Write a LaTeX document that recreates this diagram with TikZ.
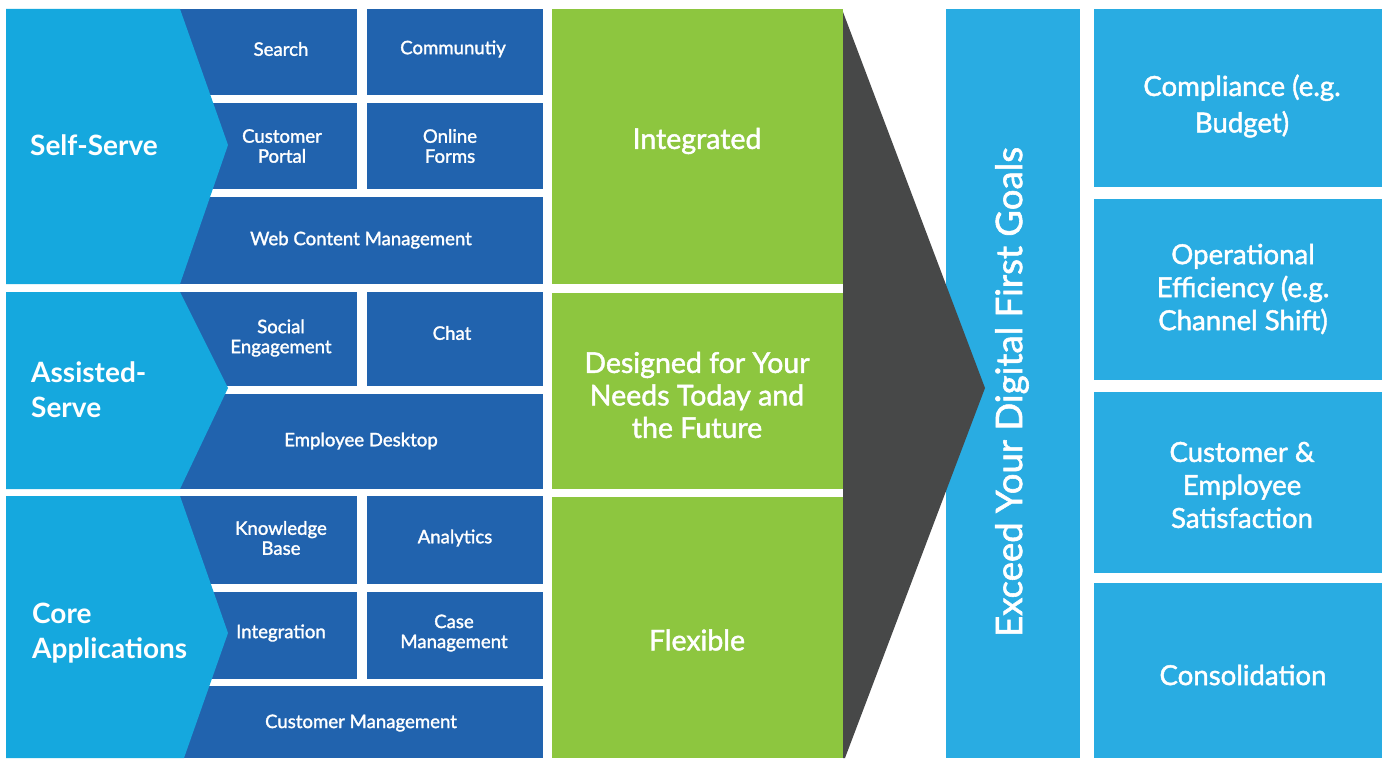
\documentclass[tikz,border=0pt]{standalone}
\usepackage{fontspec}
\setmainfont{Lato}
\newfontfamily\medfont{Lato}[FakeBold=1.6]
\definecolor{chev}{HTML}{15A8DE}
\definecolor{dblue}{HTML}{2163AE}
\definecolor{lgreen}{HTML}{8DC63F}
\definecolor{arrowgray}{HTML}{474848}
\definecolor{rblue}{HTML}{29ACE2}
\begin{document}
\begin{tikzpicture}[x=1pt,y=-1pt,
  small/.style={text=white,font=\medfont\fontsize{18.6}{20}\selectfont,align=center},
  bigl/.style={text=white,font=\bfseries\fontsize{28}{35}\selectfont,align=left,anchor=west,inner sep=0pt},
  greent/.style={text=white,font=\medfont\fontsize{28.5}{32.5}\selectfont,align=center},
  rightt/.style={text=white,font=\medfont\fontsize{27.6}{33}\selectfont,align=center}]
\useasboundingbox (0,0) rectangle (1385,760);
\fill[white] (0,0) rectangle (1385,760);
% dark blue boxes: Self-Serve
\fill[dblue] (170,9) rectangle (357,95);
\fill[dblue] (367,9) rectangle (543,95);
\fill[dblue] (170,103) rectangle (357,189);
\fill[dblue] (367,103) rectangle (543,189);
\fill[dblue] (170,197) rectangle (543,284);
% Assisted-Serve
\fill[dblue] (170,292) rectangle (357,386);
\fill[dblue] (367,292) rectangle (543,386);
\fill[dblue] (170,394) rectangle (543,489);
% Core Applications
\fill[dblue] (170,496) rectangle (357,584);
\fill[dblue] (367,496) rectangle (543,584);
\fill[dblue] (170,592) rectangle (357,679);
\fill[dblue] (367,592) rectangle (543,679);
\fill[dblue] (170,686) rectangle (543,758);
% chevrons
\fill[chev] (6,9) -- (180,9) -- (228,145) -- (180,284) -- (6,284) -- cycle;
\fill[chev] (6,292) -- (180,292) -- (228,388) -- (180,489) -- (6,489) -- cycle;
\fill[chev] (6,496) -- (180,496) -- (228,633) -- (184,758) -- (6,758) -- cycle;
% green column
\fill[lgreen] (552,9) rectangle (843,284);
\fill[lgreen] (552,293) rectangle (843,489);
\fill[lgreen] (552,497) rectangle (843,758);
% right
\fill[rblue] (946,9) rectangle (1080,758);
\fill[rblue] (1094,9) rectangle (1382,187);
\fill[rblue] (1094,199) rectangle (1382,380);
\fill[rblue] (1094,392) rectangle (1382,573);
\fill[rblue] (1094,583) rectangle (1382,758);
% arrow
\fill[arrowgray] (843,12) -- (985,388) -- (845,758) -- (843,758) -- cycle;
% texts
\node[small] (search) at (281,49) {Search};
\node[small] (comm) at (453,49) {Communutiy};
\node[small] (portal) at (282,146) {Customer\\Portal};
\node[small] (forms) at (450,146) {Online\\Forms};
\node[small] (wcm) at (361,240) {Web Content Management};
\node[small] (social) at (281,338) {Social\\Engagement};
\node[small] (chat) at (452,333) {Chat};
\node[small] (desk) at (361,441) {Employee Desktop};
\node[small] (kb) at (281,538) {Knowledge\\Base};
\node[small] (analytics) at (455,538) {Analytics};
\node[small] (integ) at (281,633) {Integration};
\node[small] (case) at (454,633) {Case\\Management};
\node[small] (cm) at (361,723) {Customer Management};
\node[bigl] (self) at (30,145) {Self-Serve};
\node[bigl] (assist) at (31,390) {Assisted-\\Serve};
\node[bigl] (core) at (32,633) {Core\\Applications};
\node[greent] (integrated) at (697,141) {Integrated};
\node[greent] (designed) at (697,395) {Designed for Your\\Needs Today and\\the Future};
\node[greent] (flex) at (697,640) {Flexible};
\node[text=white,font=\medfont\fontsize{36.5}{40}\selectfont,rotate=90] (exceed) at (1012,392) {Exceed Your Digital First Goals};
\node[rightt,font=\medfont\fontsize{27.6}{36.5}\selectfont] (compl) at (1242,106) {Compliance (e.g.\\Budget)};
\node[rightt] (oper) at (1243,289) {Operational\\Efficiency (e.g.\\Channel Shift)};
\node[rightt] (sat) at (1242,485) {Customer \&\\Employee\\Satisfaction};
\node[rightt] (cons) at (1243,675) {Consolidation};
\end{tikzpicture}
\end{document}
